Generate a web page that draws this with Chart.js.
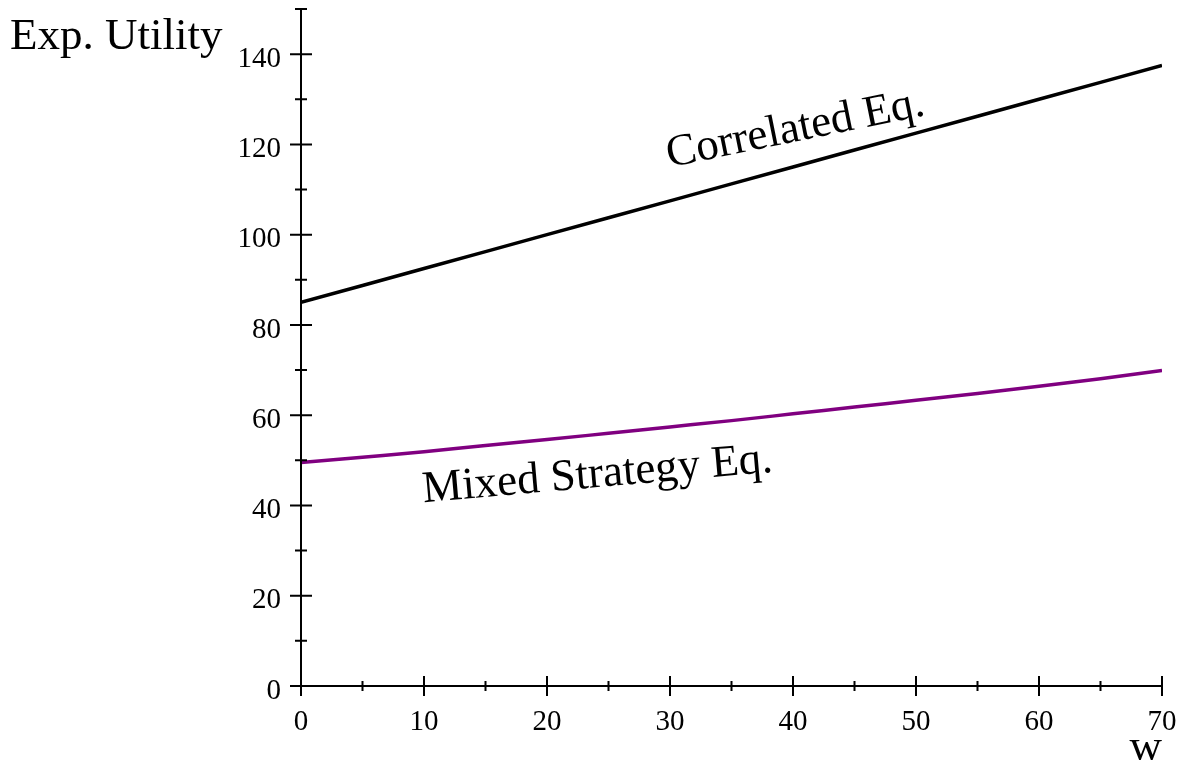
<!DOCTYPE html>
<html>
<head>
<meta charset="utf-8">
<script src="https://cdn.jsdelivr.net/npm/chart.js@4/dist/chart.umd.min.js"></script>
<style>
  html, body { margin: 0; padding: 0; background: #ffffff; }
  #wrap { width: 1183px; height: 764px; }
</style>
</head>
<body>
<div id="wrap"><canvas id="c" width="1183" height="764"></canvas></div>
<script>
// Values of w where both curves are evaluated
const wValues = [0, 5, 10, 15, 20, 25, 30, 35, 40, 45, 50, 55, 60, 65, 70];
// Expected utility under the correlated equilibrium
const correlatedEq = [85, 88.75, 92.5, 96.25, 100, 103.75, 107.5, 111.25, 115, 118.75, 122.5, 126.25, 130, 133.75, 137.5];
// Expected utility under the mixed strategy equilibrium
const mixedEq = [49.5, 50.7, 51.9, 53.3, 54.6, 56.0, 57.4, 58.8, 60.3, 61.8, 63.3, 64.8, 66.4, 68.1, 69.9];
// Labelled tick values
const xTickLabels = [0, 10, 20, 30, 40, 50, 60, 70];
const yTickLabels = [0, 20, 40, 60, 80, 100, 120, 140];

const SERIF = '"Liberation Serif", "DejaVu Serif", serif';

const toPoints = (ys) => wValues.map((w, i) => ({ x: w, y: ys[i] }));

// Axes drawn through the origin with ticks crossing the axis line,
// plus the axis captions and the curve labels.
const axesPlugin = {
  id: 'crossAxes',
  afterDatasetsDraw(chart, args, opts) {
    const { ctx, scales: { x, y } } = chart;
    const x0 = x.getPixelForValue(0);
    const y0 = y.getPixelForValue(0);
    const xEnd = x.getPixelForValue(x.max);
    const yTop = y.getPixelForValue(y.max);
    ctx.save();
    ctx.strokeStyle = '#000';
    ctx.lineWidth = 2;
    ctx.lineCap = 'butt';
    ctx.beginPath();
    // x axis
    ctx.moveTo(x0 - 11, y0); ctx.lineTo(xEnd, y0);
    // y axis
    ctx.moveTo(x0, yTop); ctx.lineTo(x0, y0 + 10);
    // x ticks
    for (let v = x.min; v <= x.max + 1e-9; v += 5) {
      const px = x.getPixelForValue(v);
      const h = (v % 10 === 0) ? 10 : 5;
      ctx.moveTo(px, y0 - h); ctx.lineTo(px, y0 + h);
    }
    // y ticks
    for (let v = y.min; v <= y.max + 1e-9; v += 10) {
      const py = y.getPixelForValue(v);
      const h = (v % 20 === 0) ? 11 : 6;
      ctx.moveTo(x0 - h, py); ctx.lineTo(x0 + h, py);
    }
    ctx.stroke();

    // axis captions
    ctx.fillStyle = '#000';
    ctx.font = '45px ' + SERIF;
    ctx.textBaseline = 'alphabetic';
    ctx.textAlign = 'left';
    ctx.fillText('Exp. Utility', x0 - 291, yTop + 40);
    ctx.textAlign = 'right';
    ctx.fillText('w', xEnd, y0 + 74);

    // curve labels
    ctx.textAlign = 'center';
    ctx.textBaseline = 'middle';
    for (const lab of opts.labels) {
      ctx.save();
      ctx.translate(x.getPixelForValue(lab.x), y.getPixelForValue(lab.y));
      ctx.rotate(lab.angle * Math.PI / 180);
      ctx.fillText(lab.text, 0, 0);
      ctx.restore();
    }
    ctx.restore();
  }
};

new Chart(document.getElementById('c'), {
  type: 'line',
  data: {
    datasets: [
      {
        label: 'Correlated Eq.',
        data: toPoints(correlatedEq),
        borderColor: '#000000',
        borderWidth: 3.5,
        pointRadius: 0,
        fill: false
      },
      {
        label: 'Mixed Strategy Eq.',
        data: toPoints(mixedEq),
        borderColor: '#800080',
        borderWidth: 3.5,
        pointRadius: 0,
        cubicInterpolationMode: 'monotone',
        fill: false
      }
    ]
  },
  options: {
    responsive: false,
    animation: false,
    layout: { padding: { top: 9, right: 21, left: 0, bottom: 0 } },
    plugins: {
      legend: { display: false },
      tooltip: { enabled: false },
      crossAxes: {
        labels: [
          { text: 'Correlated Eq.', x: 40.2, y: 123.3, angle: -11.5 },
          { text: 'Mixed Strategy Eq.', x: 24.1, y: 46.7, angle: -5 }
        ]
      }
    },
    scales: {
      x: {
        type: 'linear',
        min: 0,
        max: 70,
        grid: { display: false, drawTicks: false },
        border: { display: false },
        afterFit: (s) => { s.height = 78; s.paddingLeft = 0; s.paddingRight = 0; },
        ticks: {
          stepSize: 5,
          autoSkip: false,
          maxRotation: 0,
          padding: 19,
          color: '#000',
          font: { family: SERIF, size: 29 },
          callback: (v) => xTickLabels.includes(v) ? String(v) : ''
        }
      },
      y: {
        type: 'linear',
        min: 0,
        max: 150,
        grid: { display: false, drawTicks: false },
        border: { display: false },
        afterFit: (s) => { s.width = 301; s.paddingTop = 0; s.paddingBottom = 0; },
        ticks: {
          stepSize: 10,
          autoSkip: false,
          padding: 20,
          labelOffset: 5,
          color: '#000',
          font: { family: SERIF, size: 29 },
          callback: (v) => yTickLabels.includes(v) ? String(v) : ''
        }
      }
    }
  },
  plugins: [axesPlugin]
});
</script>
</body>
</html>
